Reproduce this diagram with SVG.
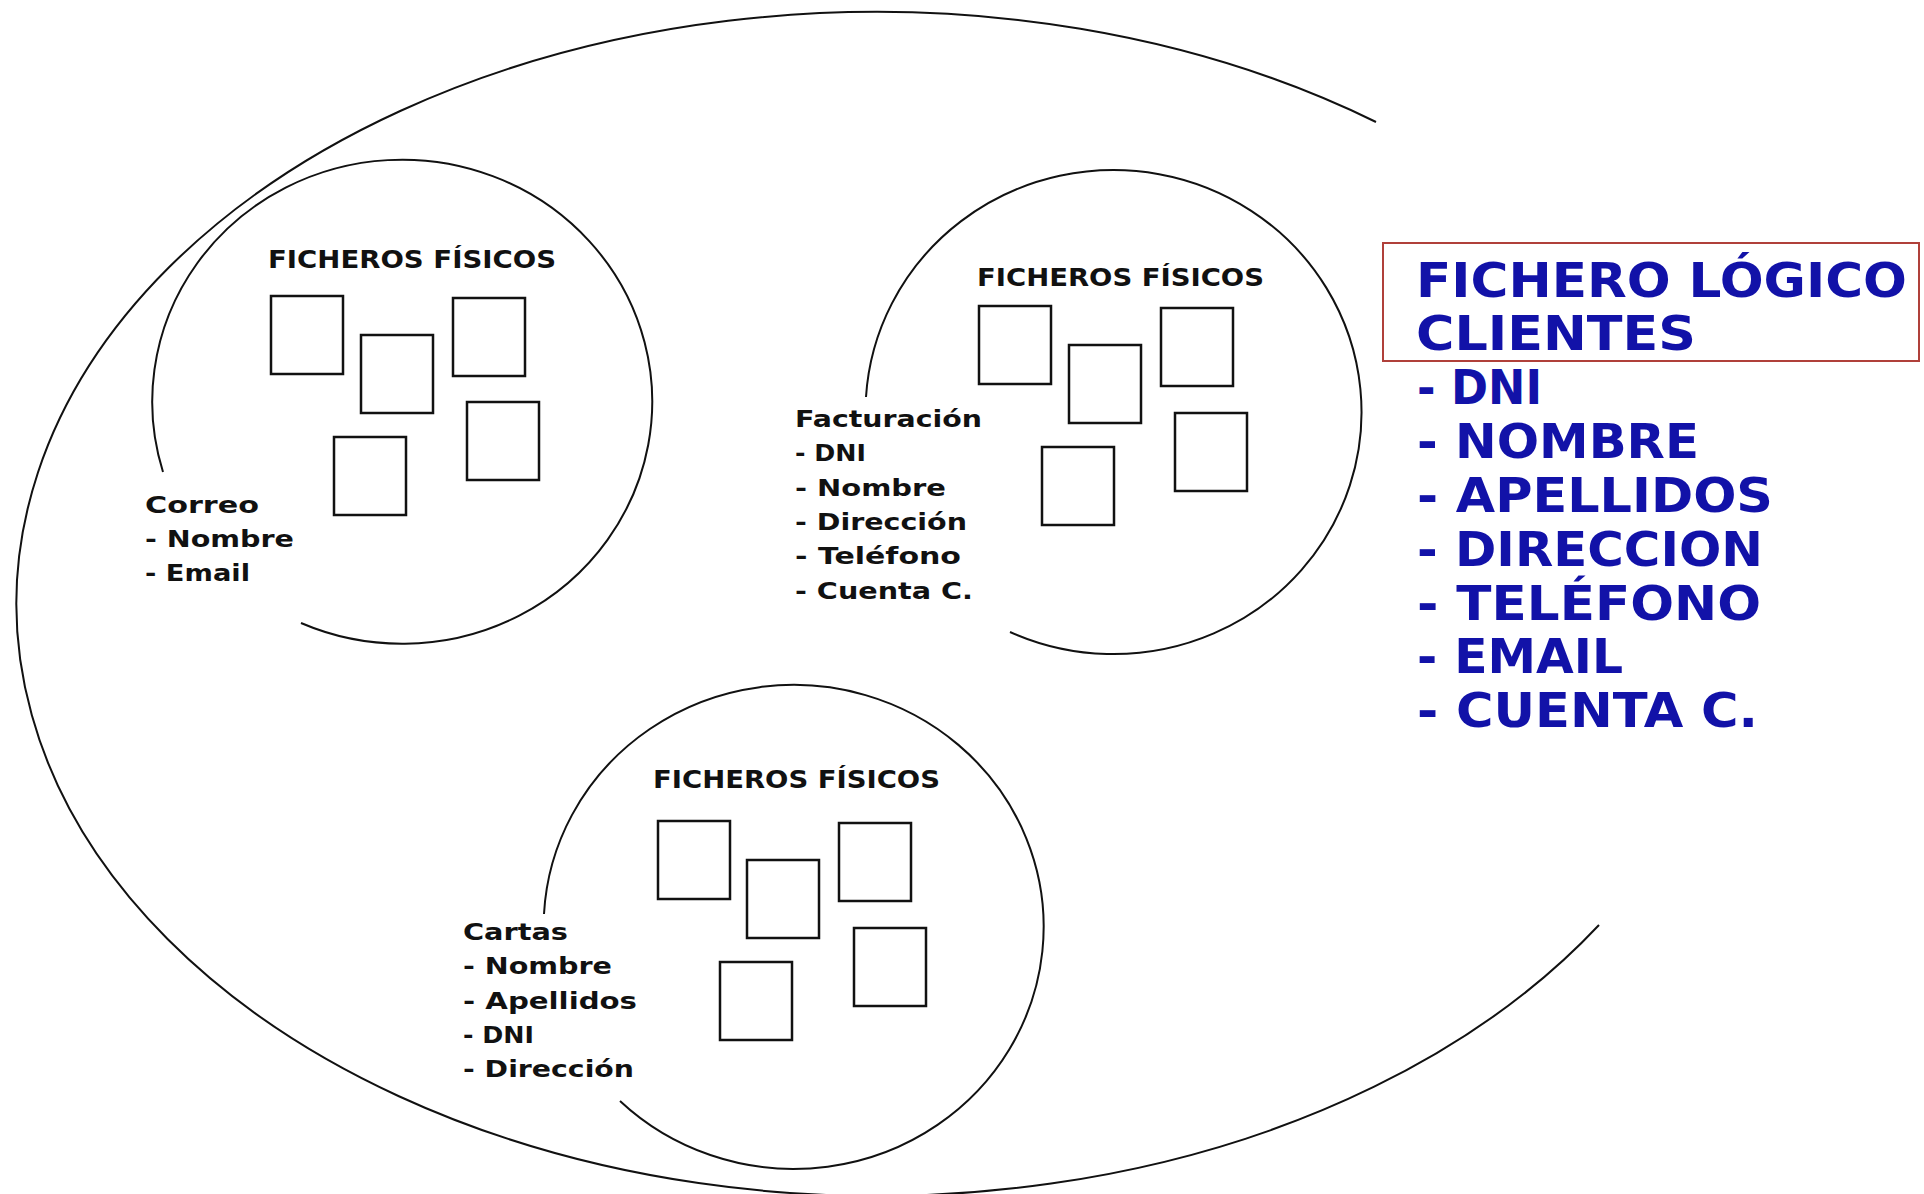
<svg xmlns="http://www.w3.org/2000/svg" width="1924" height="1194" viewBox="0 0 1924 1194">
<style>
.arc{fill:none;stroke:#111;stroke-width:2}
.box{fill:#fff;stroke:#111;stroke-width:2.5}
.ttl{font-family:"DejaVu Sans",sans-serif;font-weight:bold;font-size:24px;fill:#111}
.lbl{font-family:"DejaVu Sans",sans-serif;font-weight:bold;font-size:23px;fill:#111}
.blue{font-family:"DejaVu Sans",sans-serif;font-weight:bold;font-size:48px;fill:#1212a8}
</style>
<rect width="1924" height="1194" fill="#fff"/>
<g id="connectors">
<path class="arc" d="M1376,122 A860,592 0 1 0 1599,925"/>
</g>
<g id="correo">
<path class="arc" d="M163,472 A250,242 0 1 1 301,623"/>
<text class="ttl" x="268" y="268" textLength="288" lengthAdjust="spacingAndGlyphs">FICHEROS FÍSICOS</text>
<rect class="box" x="271" y="296" width="72" height="78"/>
<rect class="box" x="361" y="335" width="72" height="78"/>
<rect class="box" x="453" y="298" width="72" height="78"/>
<rect class="box" x="334" y="437" width="72" height="78"/>
<rect class="box" x="467" y="402" width="72" height="78"/>
<text class="lbl" x="145" y="513" textLength="114" lengthAdjust="spacingAndGlyphs">Correo</text>
<text class="lbl" x="145" y="547" textLength="149" lengthAdjust="spacingAndGlyphs">- Nombre</text>
<text class="lbl" x="145" y="581" textLength="105" lengthAdjust="spacingAndGlyphs">- Email</text>
</g>
<g id="facturacion">
<path class="arc" d="M866,397 A248,242 0 1 1 1010,632"/>
<text class="ttl" x="977" y="286" textLength="287" lengthAdjust="spacingAndGlyphs">FICHEROS FÍSICOS</text>
<rect class="box" x="979" y="306" width="72" height="78"/>
<rect class="box" x="1069" y="345" width="72" height="78"/>
<rect class="box" x="1161" y="308" width="72" height="78"/>
<rect class="box" x="1042" y="447" width="72" height="78"/>
<rect class="box" x="1175" y="413" width="72" height="78"/>
<text class="lbl" x="795" y="427" textLength="187" lengthAdjust="spacingAndGlyphs">Facturación</text>
<text class="lbl" x="795" y="461" textLength="71" lengthAdjust="spacingAndGlyphs">- DNI</text>
<text class="lbl" x="795" y="496" textLength="151" lengthAdjust="spacingAndGlyphs">- Nombre</text>
<text class="lbl" x="795" y="530" textLength="172" lengthAdjust="spacingAndGlyphs">- Dirección</text>
<text class="lbl" x="795" y="564" textLength="166" lengthAdjust="spacingAndGlyphs">- Teléfono</text>
<text class="lbl" x="795" y="599" textLength="178" lengthAdjust="spacingAndGlyphs">- Cuenta C.</text>
</g>
<g id="cartas">
<path class="arc" d="M544,914 A250,242 0 1 1 620,1101"/>
<text class="ttl" x="653" y="788" textLength="287" lengthAdjust="spacingAndGlyphs">FICHEROS FÍSICOS</text>
<rect class="box" x="658" y="821" width="72" height="78"/>
<rect class="box" x="747" y="860" width="72" height="78"/>
<rect class="box" x="839" y="823" width="72" height="78"/>
<rect class="box" x="720" y="962" width="72" height="78"/>
<rect class="box" x="854" y="928" width="72" height="78"/>
<text class="lbl" x="463" y="940" textLength="105" lengthAdjust="spacingAndGlyphs">Cartas</text>
<text class="lbl" x="463" y="974" textLength="149" lengthAdjust="spacingAndGlyphs">- Nombre</text>
<text class="lbl" x="463" y="1009" textLength="174" lengthAdjust="spacingAndGlyphs">- Apellidos</text>
<text class="lbl" x="463" y="1043" textLength="71" lengthAdjust="spacingAndGlyphs">- DNI</text>
<text class="lbl" x="463" y="1077" textLength="171" lengthAdjust="spacingAndGlyphs">- Dirección</text>
</g>
<g id="fichero-logico">
<rect x="1383" y="243" width="536" height="118" fill="none" stroke="#b0403a" stroke-width="2"/>
<text class="blue" x="1416" y="297" textLength="491" lengthAdjust="spacingAndGlyphs">FICHERO LÓGICO</text>
<text class="blue" x="1416" y="350" textLength="280" lengthAdjust="spacingAndGlyphs">CLIENTES</text>
<text class="blue" x="1417" y="404" textLength="125" lengthAdjust="spacingAndGlyphs">- DNI</text>
<text class="blue" x="1417" y="458" textLength="282" lengthAdjust="spacingAndGlyphs">- NOMBRE</text>
<text class="blue" x="1417" y="512" textLength="356" lengthAdjust="spacingAndGlyphs">- APELLIDOS</text>
<text class="blue" x="1417" y="566" textLength="346" lengthAdjust="spacingAndGlyphs">- DIRECCION</text>
<text class="blue" x="1417" y="620" textLength="344" lengthAdjust="spacingAndGlyphs">- TELÉFONO</text>
<text class="blue" x="1417" y="673" textLength="206" lengthAdjust="spacingAndGlyphs">- EMAIL</text>
<text class="blue" x="1417" y="727" textLength="341" lengthAdjust="spacingAndGlyphs">- CUENTA C.</text>
</g>
</svg>
